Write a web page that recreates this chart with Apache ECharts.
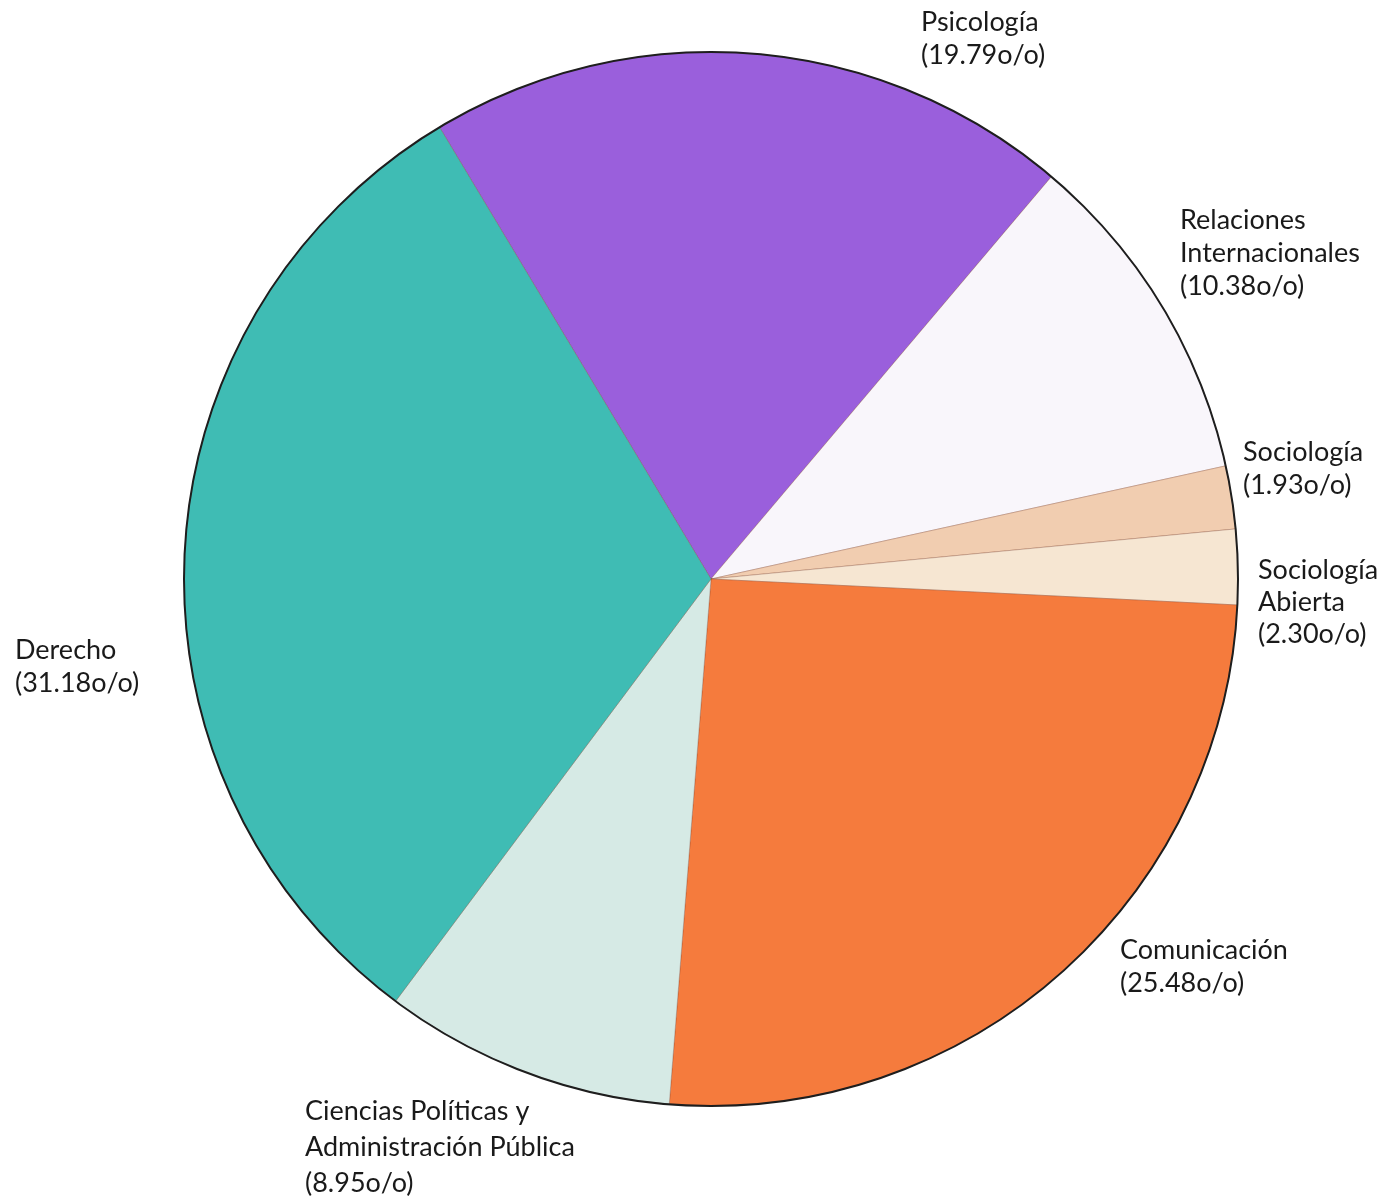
<!DOCTYPE html>
<html>
<head>
<meta charset="utf-8">
<script src="https://cdn.jsdelivr.net/npm/echarts@6/dist/echarts.min.js"></script>
<style>
html,body{margin:0;padding:0;background:#ffffff;}
#chart{width:1396px;height:1201px;}
</style>
</head>
<body>
<div id="chart"></div>
<script>
// Data (clockwise order starting at the Derecho/Psicología boundary)
var categories = ['Psicología', 'Relaciones\nInternacionales', 'Sociología', 'Sociología\nAbierta', 'Comunicación', 'Ciencias Polı́ticas y\nAdministración Pública', 'Derecho'];
var percents = [19.79, 10.38, 1.93, 2.30, 25.48, 8.95, 31.18];
var percentLabels = ['19.79', '10.38', '1.93', '2.30', '25.48', '8.95', '31.18'];

var colors = ['#9a5fdc', '#f9f6fb', '#f1cdb0', '#f6e6d2', '#f57b3d', '#d6eae5', '#3fbcb4'];
// label anchors (style/layout only)
var labelPos = [
  {x: 921, y: 6, lh: 33},
  {x: 1180, y: 204, lh: 33},
  {x: 1243, y: 436, lh: 33},
  {x: 1258, y: 554, lh: 32},
  {x: 1120, y: 934, lh: 33},
  {x: 305, y: 1093, lh: 36},
  {x: 15, y: 634, lh: 33}
];

var chart = echarts.init(document.getElementById('chart'));
var data = categories.map(function (c, i) {
  return {
    name: c,
    value: percents[i],
    itemStyle: {color: colors[i]},
    label: {formatter: c + '\n(' + percentLabels[i] + 'o/o)', lineHeight: labelPos[i].lh}
  };
});

chart.setOption({
  backgroundColor: '#ffffff',
  animation: false,
  series: [
    {
      type: 'pie',
      center: [711, 579],
      radius: [0, 527],
      startAngle: 121,
      clockwise: true,
      silent: true,
      avoidLabelOverlap: false,
      data: data,
      itemStyle: {borderWidth: 0.6, borderColor: 'rgba(120,60,40,0.5)'},
      label: {
        show: true,
        position: 'outside',
        fontFamily: 'Lato',
        fontSize: 27,
        color: '#1a1a1a'
      },
      labelLine: {show: false},
      labelLayout: function (params) {
        var p = labelPos[params.dataIndex];
        return {x: p.x, y: p.y, align: 'left', verticalAlign: 'top'};
      }
    },
    {
      type: 'pie',
      center: [711, 579],
      radius: [0, 527],
      silent: true,
      label: {show: false},
      labelLine: {show: false},
      data: [{value: 1, itemStyle: {color: 'rgba(0,0,0,0)', borderColor: '#1e1e1e', borderWidth: 2}}]
    }
  ]
});
</script>
</body>
</html>
